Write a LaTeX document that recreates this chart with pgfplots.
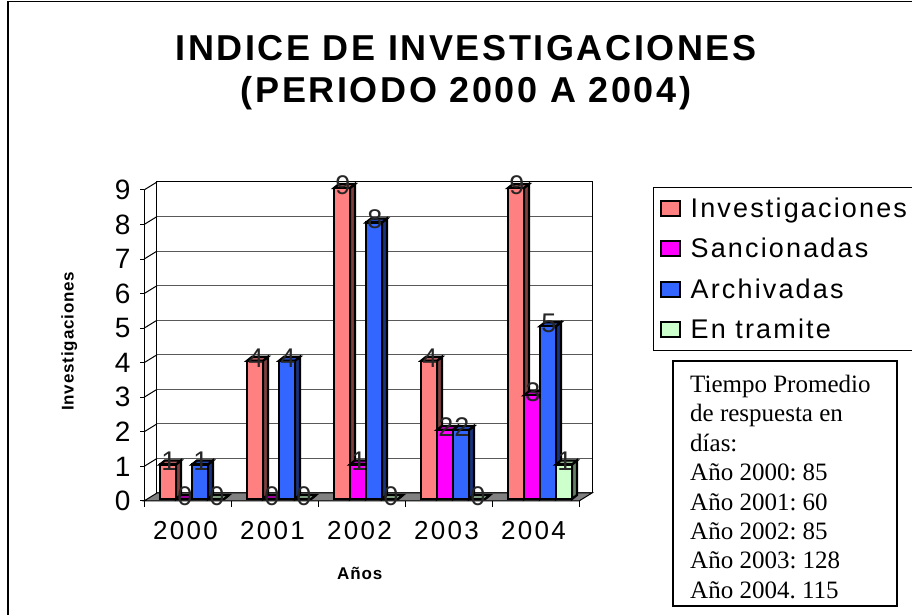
\documentclass[border=0pt]{standalone}
\usepackage{fontspec}
\usepackage{pgfplots}
\usepackage{pgfplotstable}
\pgfplotsset{compat=1.18}
\setmainfont{Liberation Serif}
\newfontfamily\arial{Liberation Sans}
\newfontfamily\wide[LetterSpace=9]{Liberation Sans}
\newfontfamily\legendfont[LetterSpace=8]{Liberation Sans}
\newfontfamily\titlefont[LetterSpace=7.2]{Liberation Sans}
\newfontfamily\labelfont[LetterSpace=5]{Liberation Sans}

\definecolor{invest}{HTML}{FF8080}
\definecolor{sancion}{HTML}{FF00FF}
\definecolor{archiv}{HTML}{3366FF}
\definecolor{tramite}{HTML}{CCFFCC}

\pgfplotstableread{
x inv san arc tra
0 1 0 1 0
1 4 0 4 0
2 9 1 8 0
3 4 2 2 0
4 9 3 5 1
}\datos

% one series: side and top faces bar by bar, then the front faces
% #1 column, #2 bar shift in px, #3 colour, #4 side colour, #5 top colour, #6 legend
\newcommand{\serie}[6]{
  \pgfplotsforeachungrouped \r in {0,...,4} {
    \pgfplotstablegetelem{\r}{#1}\of\datos
    \pgfmathsetmacro\xr{\r+(#2+8)/87}
    \pgfmathsetmacro\xd{\xr+5/87}
    \pgfmathsetmacro\yb{2/34.56}
    \pgfmathsetmacro\ybd{6/34.56}
    \pgfmathsetmacro\yt{\pgfplotsretval+2/34.56}
    \pgfmathsetmacro\ytd{\pgfplotsretval+6/34.56}
    \pgfmathsetmacro\xl{\xr-16/87}
    \pgfmathsetmacro\xld{\xl+5/87}
    \addplot[fill=#4,draw=black,line width=2.2pt,forget plot]
      coordinates {(\xr,\yb)(\xd,\ybd)(\xd,\ytd)(\xr,\yt)} --cycle;
    \addplot[fill=#5,draw=black,line width=2.2pt,forget plot]
      coordinates {(\xl,\yt)(\xld,\ytd)(\xd,\ytd)(\xr,\yt)} --cycle;
  }
  \addplot[ybar,bar width=16pt,bar shift=#2pt,yshift=2pt,fill=#3,draw=black,line width=2.2pt]
    table[x=x,y=#1] {\datos};
  \addlegendentry{#6}
}
\newcommand{\etiquetas}[2]{
  \addplot[ybar,bar width=16pt,bar shift=#2pt,draw=none,fill=none,forget plot,
    nodes near coords={\pgfmathprintnumber[assume math mode=true]{\pgfplotspointmeta}},
    every node near coord/.style={font=\arial\fontsize{27}{27}\selectfont,
      anchor=center,text=black!85,yshift=5pt,xshift=#2pt+1pt,inner sep=0pt}]
    table[x=x,y=#1] {\datos};
}

\begin{document}
\begin{tikzpicture}[x=1pt,y=1pt]
\begin{axis}[
    at={(144pt,114pt)},
    anchor=south west,
    scale only axis,
    width=435pt,
    height=311pt,
    xmin=-0.5,xmax=4.5,
    ymin=0,ymax=9,
    clip=false,
    axis x line*=bottom,
    axis y line*=left,
    axis line style={black,line width=1pt,-},
    tick align=outside,
    xtick={0,1,2,3,4},
    xticklabels={2000,2001,2002,2003,2004},
    minor xtick={-0.5,0.5,1.5,2.5,3.5,4.5},
    major x tick style={draw=none},
    minor x tick style={black,line width=1pt},
    minor tick length=6pt,
    ytick={0,1,...,9},
    y tick style={black,line width=1pt},
    major tick length=4pt,
    ymajorgrids,
    major grid style={black!65,line width=1pt,xshift=13pt,yshift=8pt},
    ticklabel style={/pgf/number format/assume math mode=true},
    tick label style={font=\wide\fontsize{26}{26}\selectfont},
    yticklabel style={font=\arial\fontsize{28}{28}\selectfont,xshift=-6pt},
    xticklabel style={yshift=-13pt,xshift=-2pt},
    xlabel={\textbf{Años}},
    ylabel={\textbf{Investigaciones}},
    xlabel style={font=\labelfont\bfseries\fontsize{17}{17}\selectfont,at={(axis description cs:0.497,-0.233)},anchor=center},
    ylabel style={font=\labelfont\bfseries\fontsize{17}{17}\selectfont,at={(axis description cs:-0.172,0.515)},anchor=center},
    legend image code/.code={\draw[#1,line width=2pt,yshift=-2pt] (2pt,-7.5pt) rectangle (21pt,7.5pt);
      \path (29pt,0pt);},
    legend cell align=left,
    legend style={at={(1.1701,1.0096)},anchor=north west,draw=black,line width=1pt,
      font=\legendfont\fontsize{27}{27}\selectfont,row sep=15.5pt,inner xsep=6pt,inner ysep=8pt},
  ]
  % floor and back wall
  \addplot[fill=black!50,draw=black,line width=1pt,forget plot]
    coordinates {(-0.5,0)(-0.3506,0.2315)(4.6494,0.2315)(4.5,0)} --cycle;
  \draw[black,line width=1pt] (axis cs:-0.3506,0.2315) -- (axis cs:-0.3506,9.2315)
    -- (axis cs:4.6494,9.2315) -- (axis cs:4.6494,0.2315);
  \pgfplotsinvokeforeach{1,...,9}{
    \draw[black,line width=1pt] (axis cs:-0.5,#1) -- ++(13pt,8pt);
  }
  \serie{inv}{-19.5}{invest}{invest!50!black}{invest!70!black}{Investigaciones}
  \serie{san}{-3.5}{sancion}{sancion!50!black}{sancion!70!black}{Sancionadas}
  \serie{arc}{12.5}{archiv}{archiv!50!black}{archiv!70!black}{Archivadas}
  \serie{tra}{28.5}{tramite}{tramite!50!black}{tramite!70!black}{En tramite}
  \etiquetas{inv}{-19.5}
  \etiquetas{san}{-3.5}
  \etiquetas{arc}{12.5}
  \etiquetas{tra}{28.5}
\end{axis}
\node[font=\titlefont\bfseries\fontsize{36}{42}\selectfont,align=center,anchor=center] at (466pt,542.5pt)
  {INDICE DE INVESTIGACIONES\\(PERIODO 2000 A 2004)};
\draw[black,line width=1.2pt] (673pt,254pt) rectangle (897pt,9pt);
\node[anchor=north west,inner sep=0pt,align=left,
  font=\frenchspacing\fontsize{25}{29.4}\selectfont] at (690pt,240pt)
  {Tiempo Promedio\\de respuesta en\\días:\\Año 2000: 85\\Año 2001: 60\\Año 2002: 85\\Año 2003: 128\\Año 2004. 115};
\draw[black,line width=1.5pt] (8pt,0pt) -- (8pt,613.5pt) -- (912pt,613.5pt);
\pgfresetboundingbox
\path[use as bounding box] (0,0) rectangle (912pt,615pt);
\end{tikzpicture}
\end{document}
